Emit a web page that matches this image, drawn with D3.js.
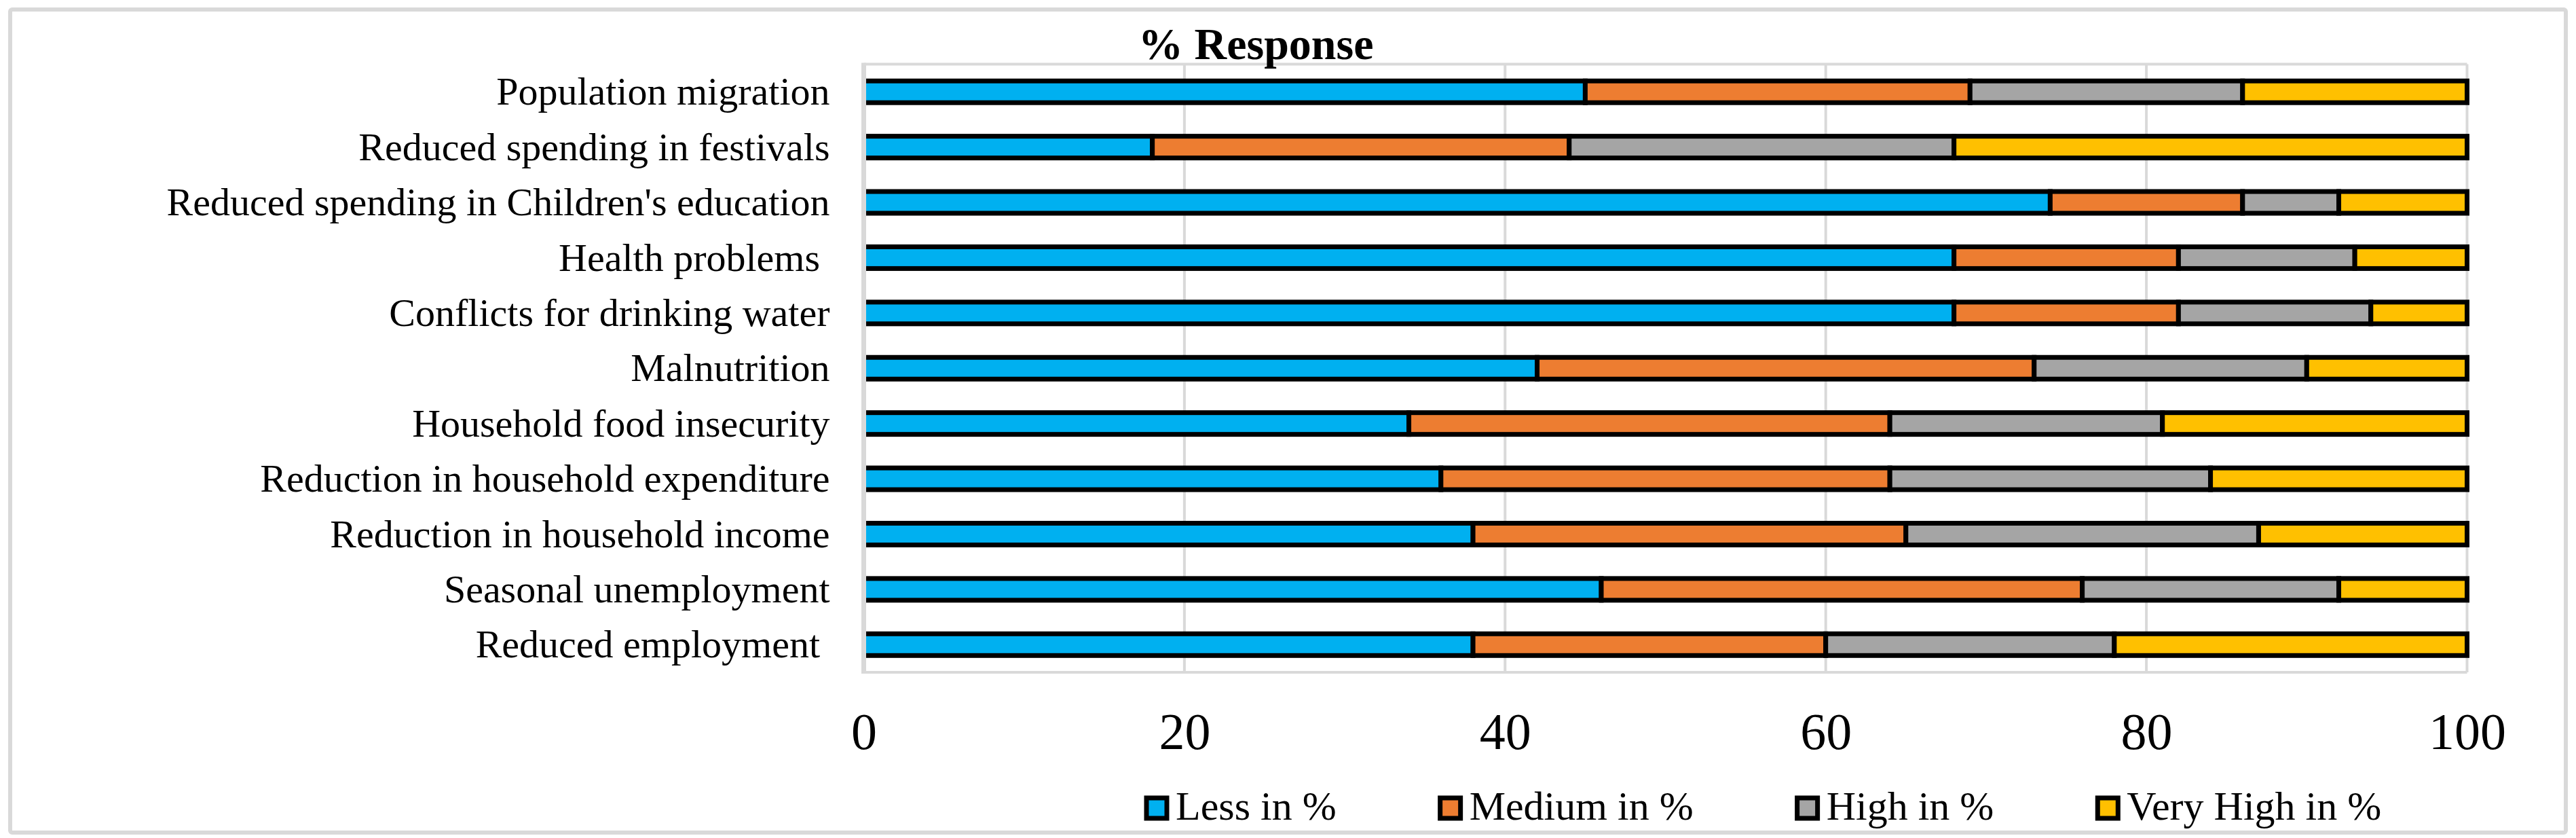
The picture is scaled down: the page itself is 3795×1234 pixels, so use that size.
<!DOCTYPE html>
<html>
<head>
<meta charset="utf-8">
<script src="https://cdn.jsdelivr.net/npm/d3@7"></script>
<style>
  html, body { margin: 0; padding: 0; background: #fff; }
  svg { display: block; }
  text { font-family: "Liberation Serif", "Times New Roman", serif; fill: #000; }
</style>
</head>
<body>
<svg id="chart" width="3795" height="1234"></svg>
<script>
// Categories top to bottom, as they appear in the chart
const categories = [
  "Population migration",
  "Reduced spending in festivals",
  "Reduced spending in Children's education",
  "Health problems ",
  "Conflicts for drinking water",
  "Malnutrition",
  "Household food insecurity",
  "Reduction in household expenditure",
  "Reduction in household income",
  "Seasonal unemployment",
  "Reduced employment "
];

const lessPct     = [45, 18, 74, 68, 68, 42, 34, 36, 38, 46, 38];
const mediumPct   = [24, 26, 12, 14, 14, 31, 30, 28, 27, 30, 22];
const highPct     = [17, 24,  6, 11, 12, 17, 17, 20, 22, 16, 18];
const veryHighPct = [14, 32,  8,  7,  6, 10, 19, 16, 13,  8, 22];

const seriesNames = ["Less in %", "Medium in %", "High in %", "Very High in %"];
const seriesColors = ["#00B0F0", "#ED7D31", "#A5A5A5", "#FFC000"];
const xTicks = [0, 20, 40, 60, 80, 100];

const svg = d3.select("#chart");
const W = +svg.attr("width"), H = +svg.attr("height");
const plot = {left: 1272.5, right: 3634.5, top: 94.5, bottom: 990};

// table the stack layout can eat
const rows = categories.map((c, i) => ({
  cat: c, s0: lessPct[i], s1: mediumPct[i], s2: highPct[i], s3: veryHighPct[i]
}));
const stacked = d3.stack().keys(["s0", "s1", "s2", "s3"])(rows);

const x = d3.scaleLinear().domain([0, 100]).range([plot.left, plot.right]);
const y = d3.scaleBand().domain(categories).range([plot.top, plot.bottom])
  .paddingInner(0.607).paddingOuter(0.3035);

// outer chart border
svg.append("rect")
  .attr("x", 15).attr("y", 14)
  .attr("width", W - 30).attr("height", H - 22)
  .attr("rx", 3)
  .attr("fill", "#fff")
  .attr("stroke", "#d9d9d9")
  .attr("stroke-width", 6);

// gridlines (the one at 100 doubles as the right border)
svg.append("g").selectAll("line.grid")
  .data(xTicks)
  .enter().append("line")
  .attr("class", "grid")
  .attr("x1", d => x(d)).attr("x2", d => x(d))
  .attr("y1", plot.top).attr("y2", plot.bottom)
  .attr("stroke", "#d9d9d9")
  .attr("stroke-width", 4);

// top & bottom border of plot area
svg.append("g").selectAll("line.hb")
  .data([plot.top, plot.bottom])
  .enter().append("line")
  .attr("x1", plot.left).attr("x2", plot.right)
  .attr("y1", d => d).attr("y2", d => d)
  .attr("stroke", "#d9d9d9")
  .attr("stroke-width", 4);

// stacked bars
svg.append("g").selectAll("g.series")
  .data(stacked)
  .enter().append("g")
  .attr("fill", (d, i) => seriesColors[i])
  .selectAll("rect")
  .data(d => d)
  .enter().append("rect")
  .attr("x", d => x(d[0]))
  .attr("width", d => x(d[1]) - x(d[0]))
  .attr("y", d => y(d.data.cat))
  .attr("height", y.bandwidth())
  .attr("stroke", "#000")
  .attr("stroke-width", 7);

// vertical axis line sits over the bar starts
svg.append("line")
  .attr("x1", plot.left).attr("x2", plot.left)
  .attr("y1", plot.top - 2).attr("y2", plot.bottom + 2)
  .attr("stroke", "#d9d9d9")
  .attr("stroke-width", 7);

// category labels
const yAxis = svg.append("g")
  .attr("transform", `translate(${plot.left}, 0)`)
  .call(d3.axisLeft(y).tickSize(0).tickPadding(50));
yAxis.select(".domain").remove();
yAxis.selectAll("text")
  .style("font-size", "58px")
  .style("font-family", "'Liberation Serif', 'Times New Roman', serif")
  .style("white-space", "pre")
  .attr("fill", "#000")
  .attr("dy", "0.33em");

// value axis labels
const xAxis = svg.append("g")
  .attr("transform", `translate(0, ${plot.bottom})`)
  .call(d3.axisBottom(x).tickValues(xTicks).tickSize(0).tickFormat(d3.format("d")));
xAxis.select(".domain").remove();
xAxis.selectAll("text")
  .attr("y", 113)
  .attr("dy", null)
  .attr("fill", "#000")
  .style("font-size", "76px")
  .style("font-family", "'Liberation Serif', 'Times New Roman', serif");

// title
svg.append("text")
  .attr("x", 1677)
  .attr("y", 87)
  .style("font-size", "66px")
  .style("font-weight", "bold")
  .text("% Response");

// legend
const legend = svg.append("g").attr("transform", "translate(1689, 1190)");
let lx = 0;
seriesNames.forEach((name, i) => {
  const item = legend.append("g").attr("transform", `translate(${lx}, 0)`);
  item.append("rect")
    .attr("x", 0).attr("y", -15)
    .attr("width", 30).attr("height", 30)
    .attr("fill", seriesColors[i])
    .attr("stroke", "#000")
    .attr("stroke-width", 7);
  const t = item.append("text")
    .attr("x", 43)
    .attr("y", 17)
    .style("font-size", "60px")
    .text(name);
  lx += 43 + t.node().getComputedTextLength() + 153;
});
</script>
</body>
</html>
